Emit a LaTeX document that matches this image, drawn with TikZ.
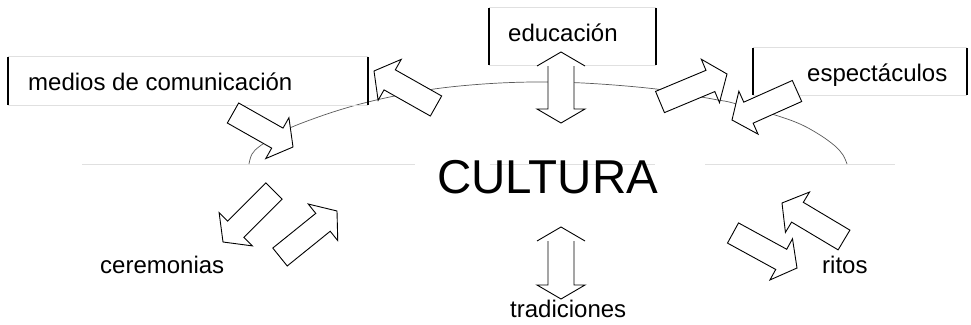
\documentclass[tikz,border=0pt]{standalone}
\usepackage{fontspec}
\setmainfont{Liberation Sans}
\usetikzlibrary{calc,positioning}

\begin{document}
\begin{tikzpicture}[x=1pt,y=-1pt]
    \newcommand*{\shaftW}{11.5pt}
    \newcommand*{\headW}{23.5pt}
    \newcommand*{\headL}{18pt}
    \tikzstyle{arrow line}=[black, line width=0.9pt, line join=miter];
    \tikzstyle{fat arrow}=[arrow line, fill=white];
    \tikzstyle{box}=[rectangle, inner sep=0pt];
    \tikzstyle{box side}=[black, line width=1.6pt];
    \tikzstyle{box rule}=[black!12, line width=0.7pt];
    \tikzstyle{arc line}=[black!65, line width=0.7pt];
    \tikzstyle{term}=[inner sep=0pt, anchor=base west, font=\fontsize{24}{28}\selectfont];

    % block arrow from tail centre #1 to tip #2
    \newcommand*{\fatArrow}[2]{%
      \draw[fat arrow] ($(#1)!\shaftW!90:(#2)$) -- ($(#2)!\headL!(#1)!\shaftW!-90:(#1)$)
        -- ($(#2)!\headL!(#1)!\headW!-90:(#1)$) -- (#2) -- ($(#2)!\headL!(#1)!\headW!90:(#1)$)
        -- ($(#2)!\headL!(#1)!\shaftW!90:(#1)$) -- ($(#1)!\shaftW!-90:(#2)$) -- cycle;}
    % vertical double arrow, #1 top tip, #2 bottom tip
    \newcommand*{\dblArrow}[2]{%
      \fill[white] (#1) -- ($(#1)+(24,14)$) -- ($(#1)+(13,14)$) -- ($(#2)+(13,-14)$) -- ($(#2)+(24,-14)$)
        -- (#2) -- ($(#2)+(-24,-14)$) -- ($(#2)+(-13,-14)$) -- ($(#1)+(-13,14)$) -- ($(#1)+(-24,14)$) -- cycle;
      \draw[arrow line] ($(#1)+(-24,14)$) -- (#1) -- ($(#1)+(24,14)$);
      \draw[arrow line] ($(#1)+(13,14)$) -- ($(#2)+(13,-14)$) -- ($(#2)+(24,-14)$) -- (#2)
        -- ($(#2)+(-24,-14)$) -- ($(#2)+(-13,-14)$) -- ($(#1)+(-13,14)$);}

    \useasboundingbox (0,0) rectangle (971,324);

    % faint rules round the centre
    \draw[box rule] (82,164) -- (415,164) (490,164) -- (655,164) (705,164) -- (895,164);

    % the arc
    \draw[arc line] plot[smooth, tension=0.6] coordinates {(249,164) (252,154) (260,146) (276,136) (292,127)
      (330,113) (368,102) (410,93) (450,87) (500,83) (550,82) (600,84) (656,89) (690,95) (718,100)
      (733,103) (775,115) (800,124) (820,135) (835,146) (843,155) (847,164)};

    % boxes
    \node[box, minimum width=360pt, minimum height=48pt] (medios) at (188,81) {};
    \node[box, minimum width=167pt, minimum height=57pt] (educ) at (572.5,36.5) {};
    \node[box, minimum width=214pt, minimum height=47pt] (espect) at (860,71.5) {};
    \foreach \b in {medios,educ,espect} {
      \draw[box rule] (\b.north west) -- (\b.north east) (\b.south west) -- (\b.south east);
      \draw[box side] (\b.north west) -- (\b.south west) (\b.north east) -- (\b.south east);
    }

    % texts
    \node[term] (mediosTxt) at (28,90) {medios de comunicación};
    \node[term] (educTxt) at (508,41) {educación};
    \node[term] (espectTxt) at (807,81) {espectáculos};
    \node[term, font=\fontsize{47.5}{56}\selectfont] (cultura) at (437,193) {CULTURA};
    \node[term] (ceremTxt) at (100,273) {ceremonias};
    \node[term] (tradTxt) at (510,317) {tradiciones};
    \node[term] (ritosTxt) at (822,273) {ritos};

    % block arrows
    \coordinate (mInT) at (233,113);  \coordinate (mInH) at (293,147);
    \coordinate (mOutT) at (436,106); \coordinate (mOutH) at (374,71);
    \coordinate (eOutT) at (660,102); \coordinate (eOutH) at (727,74);
    \coordinate (eInT) at (797,91);   \coordinate (eInH) at (732,120);
    \coordinate (cOutT) at (274,191); \coordinate (cOutH) at (223,242);
    \coordinate (cInT) at (280,257);  \coordinate (cInH) at (337,211);
    \coordinate (rInT) at (844,240);  \coordinate (rInH) at (782,203);
    \coordinate (rOutT) at (733,233); \coordinate (rOutH) at (797,268);
    \foreach \a in {mIn,mOut,eOut,eIn,cOut,cIn,rIn,rOut} {
      \fatArrow{\a T}{\a H}
    }

    % double arrows
    \coordinate (eduUp) at (561,52);  \coordinate (eduDown) at (561,123);
    \coordinate (tradUp) at (561,227); \coordinate (tradDown) at (561,299);
    \dblArrow{eduUp}{eduDown}
    \dblArrow{tradUp}{tradDown}
\end{tikzpicture}
\end{document}
